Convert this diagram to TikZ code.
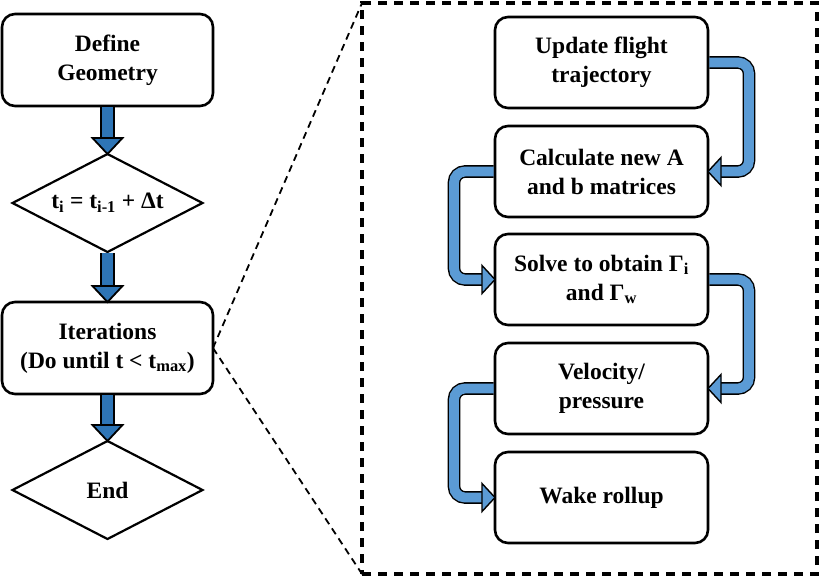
\documentclass[tikz,border=0pt]{standalone}
\usepackage{fontspec}
\setmainfont{Liberation Serif}
\usetikzlibrary{shapes.geometric,positioning}
\definecolor{darkflow}{HTML}{2E75B6}
\definecolor{lightflow}{HTML}{5B9BD5}

\begin{document}
\begin{tikzpicture}[x=1pt,y=-1pt,
  every node/.style={font=\bfseries\fontsize{23.5}{29}\selectfont, align=center, outer sep=0pt},
  stepbox/.style={draw, line width=2.6pt, rounded corners=13pt, fill=white, minimum width=211pt, minimum height=92pt},
  rightbox/.style={stepbox, minimum width=213pt, minimum height=91pt},
  decision/.style={diamond, draw, line width=2.2pt, fill=white, aspect=2, inner sep=1pt, minimum width=190pt, minimum height=98pt},
  mainshaft/.style={double=darkflow, double distance=11.6pt, line width=1.8pt, shorten <=1.3pt, shorten >=15pt},
  mainhead/.style={draw, fill=darkflow, line width=1.8pt},
  loopshaft/.style={double=lightflow, double distance=9.8pt, line width=1.4pt, rounded corners=11pt, shorten <=1.3pt, shorten >=12pt},
  loophead/.style={draw, fill=lightflow, line width=1.4pt},
  detailbox/.style={draw, dash pattern=on 9pt off 7pt, line width=3.6pt, minimum width=455pt, minimum height=571pt}]
\useasboundingbox (0,0) rectangle (819,576);

% main loop
\node[stepbox] (def) at (107.5,60) {Define\\Geometry};
\node[decision, below=48pt of def] (ti) {t\textsubscript{i} = t\textsubscript{i-1} + Δt};
\node[stepbox, below=50pt of ti] (iter) {Iterations\\(Do until t < t\textsubscript{max})};
\node[decision, below=47pt of iter] (fin) {End};

% one iteration
\node[rightbox] (traj) at (601.5,62.5) {Update flight\\trajectory};
\node[rightbox, below=18pt of traj] (mat) {Calculate new A\\and b matrices};
\node[rightbox, below=17pt of mat] (solve) {Solve to obtain Γ\textsubscript{i}\\and Γ\textsubscript{w}};
\node[rightbox, below=18pt of solve] (velo) {Velocity/\\pressure};
\node[rightbox, below=18pt of velo] (wake) {Wake rollup};

% zoom frame
\node[detailbox] (detail) at (589.5,288.5) {};
\draw[dash pattern=on 7pt off 5pt, line width=1.8pt] (iter.east) -- (detail.north west);
\draw[dash pattern=on 7pt off 5pt, line width=1.8pt] (iter.east) -- (detail.south west);

% arrows
\foreach \a/\b in {def/ti, ti/iter, iter/fin} {
  \draw[mainshaft] (\a.south) -- (\b.north);
  \draw[mainhead] (\b.north) -- ++(-15,-16) -- ++(30,0) -- cycle;
}
\foreach \a/\b/\n/\s in {traj/mat/east/1, mat/solve/west/-1, solve/velo/east/1, velo/wake/west/-1} {
  \draw[loopshaft] (\a.\n) -- ++(\s*41,0) |- (\b.\n);
  \draw[loophead] (\b.\n) -- ++(\s*13,-14) -- ++(0,28) -- cycle;
}
\end{tikzpicture}
\end{document}
